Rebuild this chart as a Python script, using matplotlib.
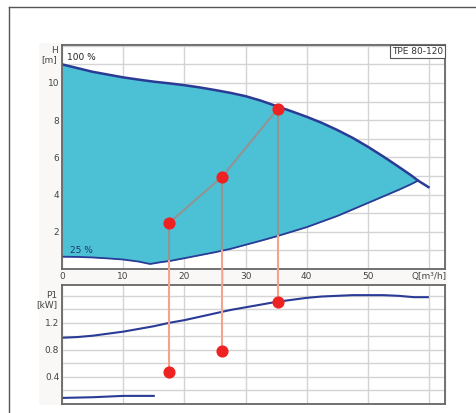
import matplotlib
matplotlib.use("Agg")
import numpy as np
import matplotlib.pyplot as plt
from matplotlib.lines import Line2D
from matplotlib.patches import ConnectionPatch, Rectangle

# pump curve data
q_max = [0, 2.5, 5, 7.5, 10, 12.5, 15, 17.5, 20, 22.5, 25, 27.5, 30, 32.5, 35, 37.5,
         40, 42.5, 45, 47.5, 50, 52.5, 55, 57, 58.2, 59.9]
h_max = [11.0, 10.8, 10.6, 10.45, 10.3, 10.18, 10.07, 9.98, 9.88, 9.76, 9.62, 9.47, 9.29, 9.05,
         8.76, 8.48, 8.18, 7.85, 7.47, 7.05, 6.57, 6.05, 5.5, 5.05, 4.75, 4.4]

q_min = [0, 2.5, 5, 7.5, 10, 12.5, 14.4, 16, 17.6, 20, 22.5, 25, 27.5, 30, 32.5, 35, 37.5,
         40, 42.5, 45, 47.5, 50, 52.5, 55, 57, 58.2]
h_min = [0.66, 0.65, 0.62, 0.57, 0.51, 0.4, 0.27, 0.36, 0.43, 0.58, 0.74, 0.9, 1.08, 1.3, 1.52,
         1.75, 2.0, 2.25, 2.55, 2.85, 3.2, 3.55, 3.9, 4.25, 4.55, 4.75]

q_p1 = [0, 2.5, 5, 7.5, 10, 12.5, 15, 17.5, 20, 22.5, 25, 27.5, 30, 32.5, 35, 37.5, 40,
        42.5, 45, 47.5, 50, 52.5, 55, 57.5, 59.8]
p1 = [0.98, 0.99, 1.01, 1.04, 1.07, 1.11, 1.15, 1.2, 1.24, 1.29, 1.34, 1.39, 1.43, 1.47, 1.51,
      1.54, 1.57, 1.59, 1.60, 1.61, 1.61, 1.61, 1.60, 1.58, 1.58]

q_low = [0, 5, 10, 15]
p_low = [0.09, 0.10, 0.12, 0.12]

# operating points
q_pts = [17.5, 26.2, 35.3]
h_pts = [2.47, 4.97, 8.62]
p_pts = [0.47, 0.79, 1.51]

top_xticks = [0, 10, 20, 30, 40, 50, 60]
top_xlabels = ["0", "10", "20", "30", "40", "50", "Q[m³/h]"]
top_yticks = [2, 4, 6, 8, 10]
bot_yticks = [0.4, 0.8, 1.2]

fill_col = "#4cc0d4"
line_col = "#2a3b96"
grid_col = "#d4d4d4"
spine_col = "#666666"
txt_col = "#444444"
salmon = "#f5a28f"
fs = 6.5

fig = plt.figure(figsize=(4.77, 4.13), dpi=100)

# outer frame (only left and top visible)
fig.add_artist(Line2D([9 / 477, 9 / 477], [0, 1 - 7 / 413], color="#555555", lw=1))
fig.add_artist(Line2D([9 / 477, 1], [1 - 7 / 413, 1 - 7 / 413], color="#555555", lw=1))
# faint panel behind the charts
fig.add_artist(Rectangle((39 / 477, 1 - 405 / 413), (447 - 39) / 477, (405 - 43) / 413,
                         facecolor="#f9f8f6", edgecolor="none", zorder=0))

ax1 = fig.add_axes([62 / 477, 1 - 269 / 413, (445 - 62) / 477, (269 - 45) / 413])
ax2 = fig.add_axes([62 / 477, 1 - 404 / 413, (445 - 62) / 477, (404 - 285) / 413])

for ax in (ax1, ax2):
    ax.set_xlim(0, 62.6)
    ax.set_xticks(range(0, 61, 10))
    ax.grid(True, color=grid_col, lw=1)
    ax.set_axisbelow(True)
    ax.tick_params(length=0, labelsize=fs, labelcolor=txt_col, pad=2)
    for s in ax.spines.values():
        s.set_color(spine_col)
        s.set_linewidth(1.3)

# head chart
ax1.set_ylim(0, 12.04)
ax1.set_yticks(range(0, 13))
ax1.set_yticklabels(["" if v not in top_yticks else str(v) for v in range(0, 13)])
ax1.set_xticks(top_xticks)
ax1.set_xticklabels(top_xlabels)

qq = np.linspace(0, 58.2, 400)
ax1.fill_between(qq, np.interp(qq, q_min, h_min), np.interp(qq, q_max, h_max),
                 color=fill_col, lw=0, zorder=1)
ax1.plot(q_max, h_max, color=line_col, lw=1.8, zorder=2)
ax1.plot(q_min, h_min, color=line_col, lw=1.3, zorder=2)
ax1.plot(q_pts, h_pts, color="#939393", lw=1.5, zorder=3)

ax1.text(0.8, 11.35, "100 %", fontsize=fs, color="#222222", va="center")
ax1.text(1.3, 1.0, "25 %", fontsize=fs, color="#1a3a6a", va="center")
ax1.text(-0.012, 0.995, "H\n[m]", transform=ax1.transAxes, ha="right", va="top",
         fontsize=fs, color=txt_col, linespacing=1.0)
ax1.text(0.995, 0.99, "TPE 80-120", transform=ax1.transAxes, ha="right", va="top",
         fontsize=fs, color="#333333",
         bbox=dict(boxstyle="square,pad=0.25", facecolor="white", edgecolor="#555555", lw=0.8))

# power chart
ax2.set_ylim(0, 1.76)
p_grid = np.arange(0, 1.7, 0.2)
ax2.set_yticks(p_grid)
ax2.set_yticklabels(["%.1f" % v if any(abs(v - b) < 1e-6 for b in bot_yticks) else ""
                     for v in p_grid])
ax2.set_xticklabels([])
ax2.plot(q_p1, p1, color=line_col, lw=1.5, zorder=2)
ax2.plot(q_low, p_low, color=line_col, lw=1.5, zorder=2)
ax2.text(-0.012, 0.95, "P1\n[kW]", transform=ax2.transAxes, ha="right", va="top",
         fontsize=fs, color=txt_col, linespacing=1.0)

# drop lines from head points to power points
for q, h, p in zip(q_pts, h_pts, p_pts):
    h_lo = np.interp(q, q_min, h_min)
    ax1.plot([q, q], [h, h_lo], color="#939393", lw=1.5, zorder=3)
    ax1.plot([q, q], [h_lo, 0], color=salmon, lw=1.5, zorder=3)
    ax2.plot([q, q], [1.76, p], color=salmon, lw=1.5, zorder=3)
    con = ConnectionPatch(xyA=(q, 0), coordsA=ax1.transData, xyB=(q, 1.76), coordsB=ax2.transData,
                          color=salmon, lw=1.5, zorder=4)
    fig.add_artist(con)

ax1.scatter(q_pts, h_pts, s=60, color="#ee2222", zorder=5, clip_on=False)
ax2.scatter(q_pts, p_pts, s=60, color="#ee2222", zorder=5, clip_on=False)

fig.savefig("out.png", dpi=100)
